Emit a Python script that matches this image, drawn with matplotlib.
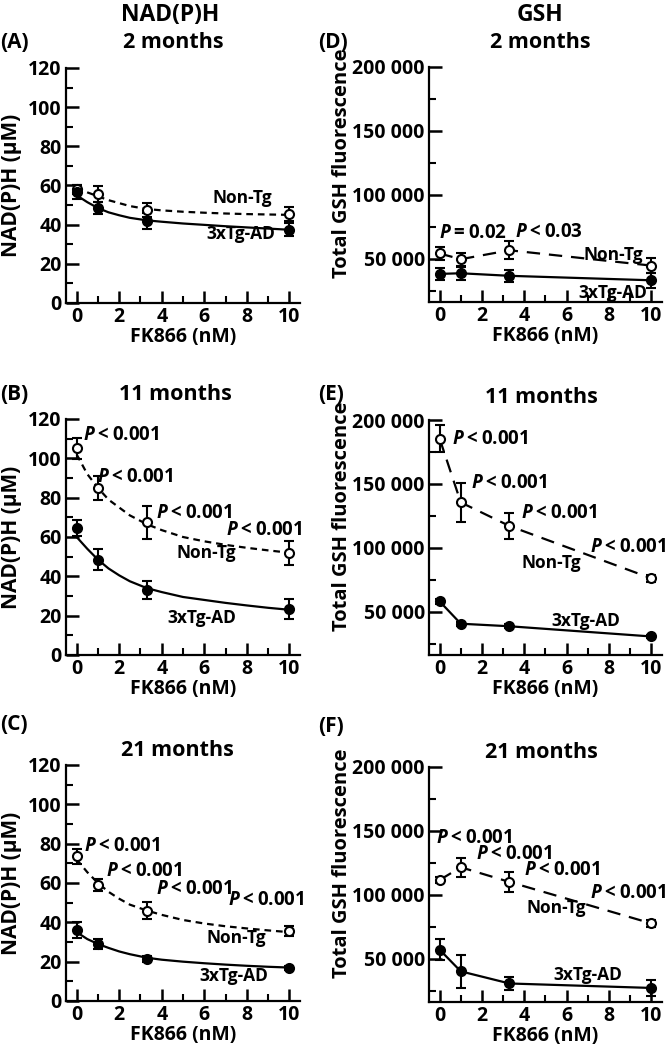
import matplotlib
matplotlib.use("Agg")
import matplotlib.pyplot as plt

plt.rcParams['font.family'] = ['Open Sans', 'DejaVu Sans']
plt.rcParams['font.weight'] = 'bold'
plt.rcParams['mathtext.fontset'] = 'custom'
plt.rcParams['mathtext.bfit'] = 'Open Sans:bold:italic'

# FK866 concentrations (nM)
fk = [0, 1, 3.3, 10]

# NAD(P)H (uM), mean and error
a_nontg = [58, 55.5, 47.5, 45.5]
a_nontg_err = [2.5, 4, 3.5, 3.5]
a_tg = [56.5, 48.5, 42, 37.5]
a_tg_err = [3.5, 3, 4, 3.5]

b_nontg = [105, 85, 67.5, 52]
b_nontg_err = [5.5, 6, 8.5, 6]
b_tg = [64.5, 48.5, 33, 23.5]
b_tg_err = [4, 5.5, 4.5, 5]

c_nontg = [73.5, 59, 46, 35.5]
c_nontg_err = [4, 3, 4.5, 2.5]
c_tg = [36, 29, 21.5, 17]
c_tg_err = [4, 2.5, 1.5, 1]

# fitted curves
fit_x = [0, 0.5, 1, 1.5, 2, 2.5, 3.3, 4, 5, 6, 7, 8, 9, 10]
a_fit_nontg = [59, 56.5, 54.5, 52.5, 51, 49.5, 48, 47.3, 46.6, 46.1, 45.7, 45.4, 45.2, 45]
a_fit_tg = [55, 51.5, 48.5, 46.3, 44.8, 43.5, 42.2, 41.5, 40.6, 39.9, 39.2, 38.6, 38, 37.4]
b_fit_nontg = [102, 92, 85, 79, 75, 71, 66.5, 63.5, 60, 57.8, 56, 54.5, 53.2, 52]
b_fit_tg = [60, 54, 48.5, 44, 40.5, 37.5, 34, 32, 29.5, 28, 26.5, 25.2, 24, 23]
c_fit_nontg = [72, 65.5, 60, 55.5, 52, 49, 46, 43.8, 41.2, 39.4, 38, 36.9, 35.9, 35]
c_fit_tg = [35, 31.5, 29, 27, 25.2, 23.8, 22, 21, 20, 19.2, 18.5, 17.9, 17.4, 17]

# total GSH fluorescence, mean and error
d_nontg = [54000, 49500, 56500, 44500]
d_nontg_err = [5000, 5000, 7000, 6000]
d_tg = [38000, 38500, 36500, 33000]
d_tg_err = [4500, 5000, 4500, 6000]

e_nontg = [185500, 135500, 117000, 76000]
e_nontg_err = [10500, 15000, 10000, 3000]
e_tg = [58000, 40500, 38500, 30500]
e_tg_err = [2000, 1500, 1500, 1500]

f_nontg = [111500, 121500, 110000, 77500]
f_nontg_err = [2500, 7500, 8000, 2500]
f_tg = [57000, 40000, 30500, 27000]
f_tg_err = [8500, 13000, 5000, 6000]

nad_ticks = [0, 20, 40, 60, 80, 100, 120]
gsh_ticks = [50000, 100000, 150000, 200000]
gsh_labels = ['50 000', '100 000', '150 000', '200 000']

W, H = 669, 1047
fig = plt.figure(figsize=(W / 100, H / 100), dpi=100)


def box(l, r, t, b):
    return [l / W, 1 - b / H, (r - l) / W, (b - t) / H]


def style(ax, gsh):
    ax.set_xlim(-0.5, 10.5)
    ax.set_xticks([0, 2, 4, 6, 8, 10])
    ax.set_xticks([1, 3, 5, 7, 9], minor=True)
    if gsh:
        ax.set_ylim(16000, 200000)
        ax.set_yticks(gsh_ticks)
        ax.set_yticklabels(gsh_labels)
        ax.set_yticks([25000, 75000, 125000, 175000], minor=True)
        ax.set_ylabel('Total GSH fluorescence', fontsize=14.5, fontweight='bold')
        ax.yaxis.set_label_coords(-0.33, 0.59)
    else:
        ax.set_ylim(0, 120)
        ax.set_yticks(nad_ticks)
        ax.set_yticks(range(10, 120, 20), minor=True)
        ax.set_ylabel('NAD(P)H (\u03bcM)', fontsize=15, fontweight='bold')
        ax.yaxis.set_label_coords(-0.19, 0.5)
    for s in ['top', 'right']:
        ax.spines[s].set_visible(False)
    for s in ['left', 'bottom']:
        ax.spines[s].set_linewidth(1.6)
    ax.tick_params(which='major', direction='in', length=9, width=1.8,
                   labelsize=14, pad=3)
    ax.tick_params(which='minor', direction='in', length=5, width=1.5)
    for lab in ax.get_xticklabels() + ax.get_yticklabels():
        lab.set_fontweight('bold')
    ax.set_xlabel('FK866 (nM)', fontsize=14, fontweight='bold', labelpad=0)


def points(ax, y, err, open_marker):
    ax.errorbar(fk, y, yerr=err, fmt='o', color='black', ms=6.5,
                mfc='white' if open_marker else 'black', mec='black', mew=1.5,
                elinewidth=1.5, capsize=3.5, capthick=1.5, zorder=3)


def put(ax, x, y, s, ha='left', size=12.5):
    ax.text(x, y, s, ha=ha, va='center', fontsize=size, fontweight='bold')


def pval(ax, x, y, s='< 0.001'):
    ax.text(x, y, '$\\mathbfit{P}$\u2009' + s.replace(' ', '\u2009'),
            ha='left', va='center', fontsize=13.5, fontweight='bold')


# (A)
ax = fig.add_axes(box(66, 300, 68, 303))
ax.plot(fit_x, a_fit_nontg, color='black', lw=1.6, ls=(0, (3, 2.2)))
ax.plot(fit_x, a_fit_tg, color='black', lw=1.6)
points(ax, a_nontg, a_nontg_err, True)
points(ax, a_tg, a_tg_err, False)
put(ax, 7.8, 53.5, 'Non-Tg', ha='center')
put(ax, 7.7, 35, '3xTg-AD', ha='center')
style(ax, False)

# (B)
ax = fig.add_axes(box(66, 300, 419, 655))
ax.plot(fit_x, b_fit_nontg, color='black', lw=1.6, ls=(0, (3, 2.2)))
ax.plot(fit_x, b_fit_tg, color='black', lw=1.6)
points(ax, b_nontg, b_nontg_err, True)
points(ax, b_tg, b_tg_err, False)
pval(ax, 0.3, 112)
pval(ax, 0.95, 90.7)
pval(ax, 3.75, 72)
pval(ax, 7.0, 63.5)
put(ax, 6.1, 51.7, 'Non-Tg', ha='center')
put(ax, 5.9, 18.6, '3xTg-AD', ha='center')
style(ax, False)

# (C)
ax = fig.add_axes(box(66, 300, 765, 1001))
ax.plot(fit_x, c_fit_nontg, color='black', lw=1.6, ls=(0, (3, 2.2)))
ax.plot(fit_x, c_fit_tg, color='black', lw=1.6)
points(ax, c_nontg, c_nontg_err, True)
points(ax, c_tg, c_tg_err, False)
pval(ax, 0.35, 78.6)
pval(ax, 1.4, 65.9)
pval(ax, 3.75, 57)
pval(ax, 7.1, 51.5)
put(ax, 7.5, 32, 'Non-Tg', ha='center')
put(ax, 7.4, 12.7, '3xTg-AD', ha='center')
style(ax, False)

# (D)
ax = fig.add_axes(box(429, 662, 67, 302))
ax.plot(fk, d_nontg, color='black', lw=1.6, ls=(0, (6, 4)))
ax.plot(fk, d_tg, color='black', lw=1.6)
points(ax, d_nontg, d_nontg_err, True)
points(ax, d_tg, d_tg_err, False)
pval(ax, -0.05, 70000, '= 0.02')
pval(ax, 3.55, 70800, '< 0.03')
put(ax, 8.2, 53000, 'Non-Tg', ha='center')
put(ax, 8.2, 23300, '3xTg-AD', ha='center')
style(ax, True)

# (E)
ax = fig.add_axes(box(429, 662, 420, 655))
ax.plot(fk, e_nontg, color='black', lw=1.6, ls=(0, (6, 4)))
ax.plot(fk, e_tg, color='black', lw=1.6)
points(ax, e_nontg, e_nontg_err, True)
points(ax, e_tg, e_tg_err, False)
pval(ax, 0.58, 185200)
pval(ax, 1.5, 150600)
pval(ax, 3.86, 127200)
pval(ax, 7.1, 100700)
put(ax, 5.27, 88200, 'Non-Tg', ha='center')
put(ax, 6.9, 42700, '3xTg-AD', ha='center')
style(ax, True)

# (F)
ax = fig.add_axes(box(429, 662, 767, 1002))
ax.plot(fk, f_nontg, color='black', lw=1.6, ls=(0, (6, 4)))
ax.plot(fk, f_tg, color='black', lw=1.6)
points(ax, f_nontg, f_nontg_err, True)
points(ax, f_tg, f_tg_err, False)
pval(ax, -0.19, 144700)
pval(ax, 1.7, 131700)
pval(ax, 4.0, 119500)
pval(ax, 7.1, 101400)
put(ax, 5.5, 89700, 'Non-Tg', ha='center')
put(ax, 7.0, 37300, '3xTg-AD', ha='center')
style(ax, True)


# column titles, ages and panel letters
def ftext(x, y, s, size, ha='center'):
    fig.text(x / W, 1 - y / H, s, ha=ha, va='center', fontsize=size,
             fontweight='bold')


ftext(170, 15, 'NAD(P)H', 16.5)
ftext(540, 15, 'GSH', 16.5)
ftext(173, 42, '2 months', 15.5)
ftext(540, 42, '2 months', 15.5)
ftext(175, 395, '11 months', 15.5)
ftext(541, 397, '11 months', 15.5)
ftext(177, 750, '21 months', 15.5)
ftext(541, 752, '21 months', 15.5)
ftext(0, 42, '(A)', 15, ha='left')
ftext(0, 395, '(B)', 15, ha='left')
ftext(0, 725, '(C)', 15, ha='left')
ftext(318, 42, '(D)', 15, ha='left')
ftext(318, 395, '(E)', 15, ha='left')
ftext(318, 727, '(F)', 15, ha='left')

fig.savefig('out.png', dpi=100)
